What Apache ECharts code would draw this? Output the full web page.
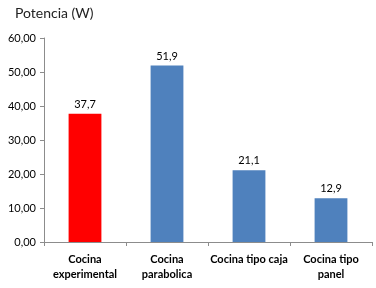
<!DOCTYPE html>
<html>
<head>
<meta charset="utf-8">
<script src="https://cdn.jsdelivr.net/npm/echarts@6/dist/echarts.min.js"></script>
<style>
html, body { margin: 0; padding: 0; background: #fff; }
#chart { width: 376px; height: 288px; }
</style>
</head>
<body>
<div id="chart"></div>
<script>
var categories = ['Cocina\nexperimental', 'Cocina\nparabolica', 'Cocina tipo caja', 'Cocina tipo\npanel'];
var potencia = [37.7, 51.9, 21.1, 12.9];
var barColors = ['#ff0000', '#4f81bd', '#4f81bd', '#4f81bd'];

var chart = echarts.init(document.getElementById('chart'));
var font = 'Lato, "Open Sans", sans-serif';

var option = {
	backgroundColor: '#fff',
	animation: false,
	title: {
		text: 'Potencia (W)',
		left: 10,
		top: 1,
		textStyle: { fontFamily: font, fontSize: 14, fontWeight: 'normal', color: '#222' }
	},
	grid: { left: 44, right: 4, top: 38, bottom: 46 },
	xAxis: {
		type: 'category',
		data: categories,
		axisLine: { lineStyle: { color: '#8c8c8c' } },
		axisTick: { show: true, alignWithLabel: false, length: 4, lineStyle: { color: '#8c8c8c' } },
		axisLabel: {
			interval: 0,
			margin: 10,
			fontFamily: font,
			fontSize: 11,
			fontWeight: 'bold',
			color: '#000',
			lineHeight: 15
		}
	},
	yAxis: {
		type: 'value',
		min: 0,
		max: 60,
		interval: 10,
		splitLine: { show: false },
		axisLine: { show: true, lineStyle: { color: '#8c8c8c' } },
		axisTick: { show: true, length: 4, lineStyle: { color: '#8c8c8c' } },
		axisLabel: {
			margin: 8,
			fontFamily: font,
			fontSize: 11,
			color: '#000',
			formatter: function (v) { return v.toFixed(2).replace('.', ','); }
		}
	},
	series: [{
		type: 'bar',
		barWidth: '40%',
		data: potencia.map(function (v, i) {
			return { value: v, itemStyle: { color: barColors[i] } };
		}),
		label: {
			show: true,
			position: 'top',
			distance: 4,
			fontFamily: font,
			fontSize: 11,
			color: '#000',
			formatter: function (p) { return p.value.toFixed(1).replace('.', ','); }
		}
	}]
};
chart.setOption(option);
</script>
</body>
</html>
